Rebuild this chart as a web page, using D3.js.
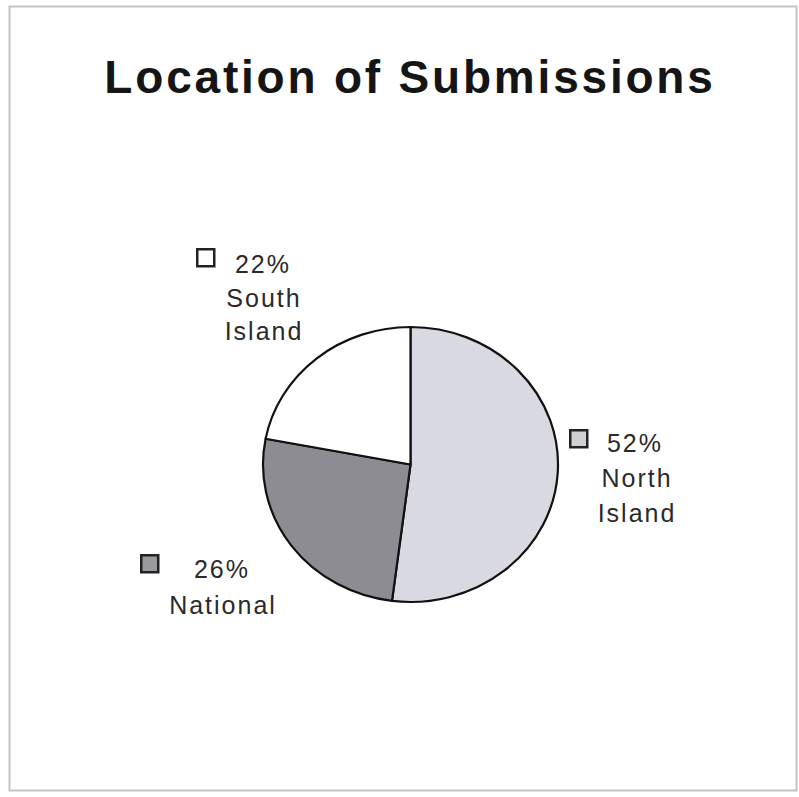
<!DOCTYPE html>
<html>
<head>
<meta charset="utf-8">
<script src="https://cdn.jsdelivr.net/npm/d3@7/dist/d3.min.js"></script>
<style>
  html, body { margin: 0; padding: 0; background: #ffffff; }
  svg { display: block; }
</style>
</head>
<body>
<script>
// Share of submissions by location (percent)
const categories = ["North Island", "National", "South Island"];
const values = [52, 26, 22];
const pctLabels = ["52%", "26%", "22%"];
const nameLines = [["North", "Island"], ["National"], ["South", "Island"]];
const colors = ["#d9d9e1", "#8c8c92", "#ffffff"];
const markerColors = ["#d0d0d4", "#9a9a9e", "#ffffff"];

const W = 799, H = 797;
const svg = d3.select("body").append("svg").attr("width", W).attr("height", H);

// outer frame
svg.append("rect")
  .attr("x", 9.5).attr("y", 6.5).attr("width", 787).attr("height", 784)
  .attr("fill", "#ffffff").attr("stroke", "#c4c4c4").attr("stroke-width", 2);

// title
svg.append("text")
  .attr("x", 410).attr("y", 93)
  .attr("text-anchor", "middle")
  .attr("font-family", "Liberation Sans, Arial, sans-serif")
  .attr("font-weight", "bold")
  .attr("font-size", 46)
  .attr("letter-spacing", 2.8)
  .attr("fill", "#151515")
  .text("Location of Submissions");

// pie (slightly flattened vertically)
const cx = 410.5, cy = 464.5, rx = 147.5, ry = 137.5;
const pie = d3.pie().sort(null).value(d => d)(values);
const arc = d3.arc().innerRadius(0).outerRadius(rx);

const g = svg.append("g")
  .attr("transform", `translate(${cx},${cy}) scale(1,${ry / rx})`);

g.selectAll("path")
  .data(pie)
  .join("path")
  .attr("d", arc)
  .attr("fill", (d, i) => colors[i])
  .attr("stroke", "#111")
  .attr("stroke-width", 2.2)
  .attr("vector-effect", "non-scaling-stroke")
  .attr("stroke-linejoin", "round");

// labels: marker square + centred text lines
const labelPos = [
  { mx: 569, my: 429, tx: 636, ty: 452, pctX: 634, gap: 35 },
  { mx: 140, my: 554, tx: 222, ty: 578, pctX: 221, gap: 36 },
  { mx: 196, my: 248, tx: 263, ty: 273, pctX: 262, gap: 33.5 }
];

const lab = svg.append("g")
  .attr("font-family", "Liberation Sans, Arial, sans-serif")
  .attr("font-size", 25)
  .attr("fill", "#2a2a2a");

categories.forEach((c, i) => {
  const p = labelPos[i];
  lab.append("rect")
    .attr("x", p.mx + 1.25).attr("y", p.my + 1.25)
    .attr("width", 17).attr("height", 17)
    .attr("fill", markerColors[i])
    .attr("stroke", "#222").attr("stroke-width", 2.5);
  lab.append("text")
    .attr("x", p.pctX + 1).attr("y", p.ty)
    .attr("text-anchor", "middle")
    .attr("letter-spacing", 2)
    .text(pctLabels[i]);
  nameLines[i].forEach((ln, j) => {
    lab.append("text")
      .attr("x", p.tx + 1).attr("y", p.ty + p.gap * (j + 1))
      .attr("text-anchor", "middle")
      .attr("letter-spacing", 2)
      .text(ln);
  });
});
</script>
</body>
</html>
